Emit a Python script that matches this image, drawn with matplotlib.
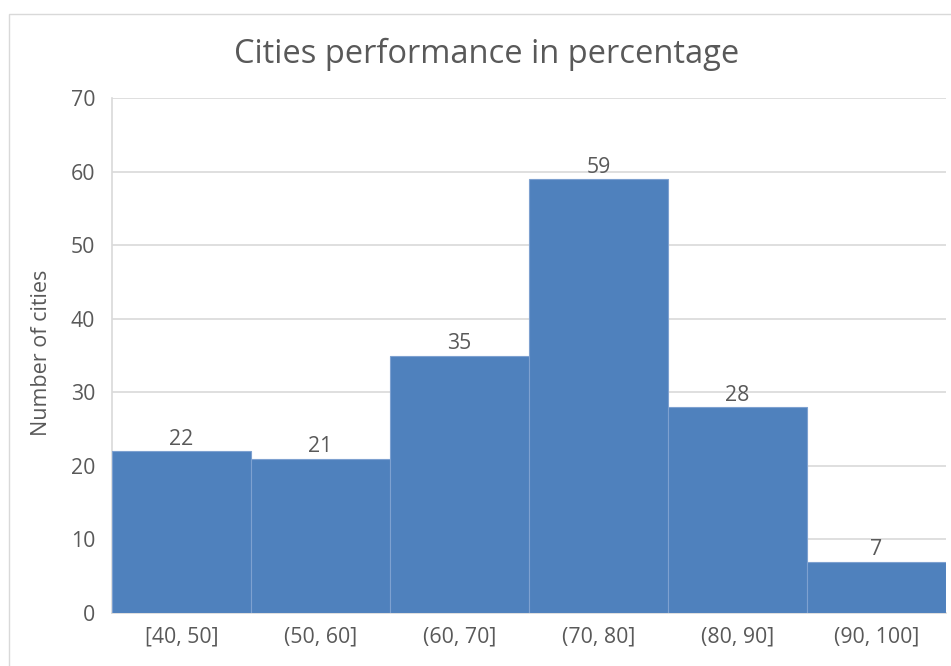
import matplotlib
matplotlib.use("Agg")
import matplotlib.pyplot as plt
from matplotlib.patches import Rectangle

categories = ["[40, 50]", "(50, 60]", "(60, 70]", "(70, 80]", "(80, 90]", "(90, 100]"]
counts = [22, 21, 35, 59, 28, 7]
yticks = [0, 10, 20, 30, 40, 50, 60, 70]

plt.rcParams['font.family'] = ['Open Sans', 'DejaVu Sans']
txt = '#595959'
grid = '#D9D9D9'

W, H = 951, 666
fig = plt.figure(figsize=(W/100, H/100), dpi=100)
fig.patch.set_facecolor('white')

# chart border
fig.patches.append(Rectangle((9.0/W, -0.1), 2.0, (1 - 14/H) + 0.1, transform=fig.transFigure,
                             fill=False, edgecolor='#D9D9D9', linewidth=1.0))

ax = fig.add_axes([112/W, 1 - 613/H, (946-112)/W, (613-98)/H])
x = list(range(len(categories)))
bars = ax.bar(x, counts, width=1.0, color='#4F81BD', edgecolor='#7EA1D0', linewidth=0.8, zorder=3)
ax.set_xlim(-0.5, len(categories) - 0.5)
ax.set_ylim(0, 70)
ax.set_yticks(yticks)
ax.set_xticks(x)
ax.set_xticklabels(categories)
ax.tick_params(axis='both', length=0, colors=txt, labelsize=15.3)
ax.tick_params(axis='y', pad=12)
ax.tick_params(axis='x', pad=10)
ax.yaxis.grid(True, color=grid, linewidth=1.2, zorder=0)
for s in ['top', 'right']:
    ax.spines[s].set_visible(False)
for s in ['left', 'bottom']:
    ax.spines[s].set_color(grid)
    ax.spines[s].set_linewidth(1.2)

for xi, c in zip(x, counts):
    ax.annotate(str(c), (xi, c), xytext=(0, 1), textcoords='offset points',
                ha='center', va='bottom', fontsize=15.3, color=txt)

ax.set_ylabel("Number of cities", fontsize=15.5, color=txt)
ax.yaxis.set_label_coords((52 - 112) / 834, 0.505)
fig.text(487/W, 1 - 54/H, "Cities performance in percentage", ha='center', va='center',
         fontsize=23.5, color=txt)

fig.savefig("out.png", dpi=100)
